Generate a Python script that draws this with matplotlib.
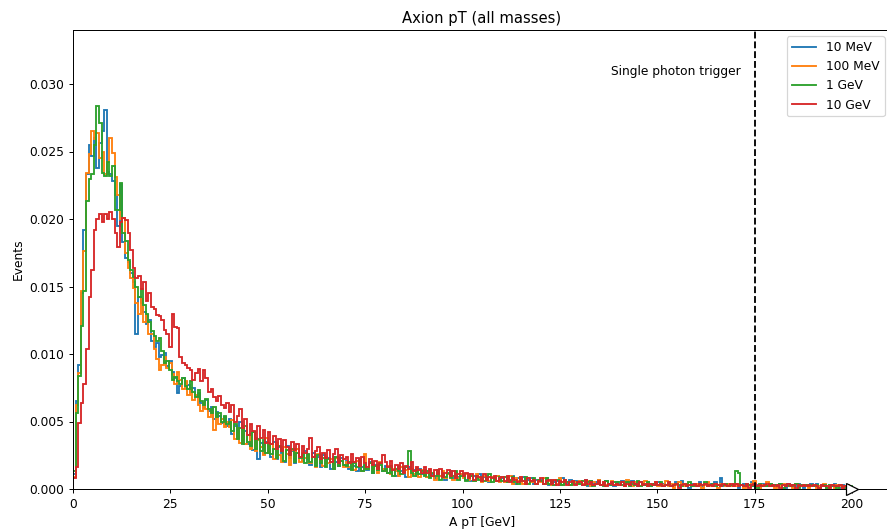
import numpy as np
import matplotlib
matplotlib.use("Agg")
import matplotlib.pyplot as plt

# histogram contents, units of 1e-5 (300 bins, 0-200 GeV)
scale = 1e-5
pt_min, pt_max, n_bins = 0, 200, 300

pt_10mev = [
    110, 650, 920, 1450, 1920, 2330, 2550, 2470, 2600, 2380, 2560, 2650, 2810, 2350, 2330,
    2280, 2180, 1950, 2260, 1830, 1710, 1680, 1600, 1530, 1150, 1420, 1380, 1310, 1220, 1250,
    1100, 1050, 1080, 980, 990, 1010, 910, 950, 870, 820, 710, 760, 820, 790, 770,
    720, 750, 690, 710, 640, 600, 660, 580, 610, 520, 570, 540, 490, 530, 470,
    520, 410, 470, 380, 500, 360, 430, 330, 410, 290, 380, 220, 340, 260, 350,
    300, 240, 350, 220, 310, 270, 200, 320, 230, 280, 190, 300, 240, 210, 280,
    220, 180, 270, 200, 240, 160, 250, 190, 230, 150, 240, 200, 170, 230, 180,
    210, 150, 200, 170, 130, 220, 160, 190, 140, 200, 120, 180, 150, 190, 130,
    170, 120, 160, 140, 100, 170, 130, 150, 90, 160, 120, 140, 100, 150, 110,
    140, 90, 130, 110, 80, 140, 100, 120, 70, 110, 130, 80, 120, 90, 110,
    100, 70, 110, 60, 100, 80, 110, 60, 90, 100, 50, 90, 70, 100, 60,
    80, 50, 90, 60, 100, 40, 80, 60, 90, 50, 70, 80, 40, 70, 60,
    70, 40, 80, 30, 70, 50, 60, 30, 80, 50, 40, 70, 40, 60, 50,
    60, 30, 70, 20, 60, 40, 50, 70, 30, 40, 60, 30, 50, 20, 50,
    40, 60, 20, 50, 30, 60, 40, 20, 50, 40, 30, 50, 20, 40, 30,
    50, 20, 40, 30, 50, 20, 30, 50, 20, 60, 30, 40, 10, 40, 30,
    30, 50, 20, 40, 30, 40, 20, 50, 30, 80, 20, 30, 40, 20, 30,
    40, 10, 30, 40, 20, 30, 50, 20, 30, 10, 40, 30, 20, 40, 20,
    30, 20, 40, 30, 10, 40, 20, 30, 20, 40, 30, 10, 30, 20, 40,
    20, 40, 10, 30, 20, 10, 30, 20, 40, 20, 10, 30, 20, 30, 10,
]

pt_100mev = [
    90, 620, 860, 1470, 1760, 2340, 2480, 2650, 2590, 2640, 2450, 2500, 2330, 2420, 2600,
    2490, 2310, 2180, 2000, 2010, 1750, 1640, 1560, 1490, 1380, 1300, 1410, 1240, 1290, 1150,
    1150, 1040, 960, 880, 920, 980, 900, 930, 850, 780, 870, 810, 740, 800, 700,
    740, 660, 700, 620, 580, 640, 590, 530, 570, 440, 540, 480, 520, 460, 500,
    460, 510, 370, 450, 340, 460, 330, 400, 300, 420, 280, 360, 310, 250, 380,
    270, 330, 220, 340, 250, 200, 310, 260, 180, 290, 240, 300, 200, 270, 230,
    250, 190, 240, 160, 260, 210, 170, 240, 190, 220, 150, 230, 180, 210, 160,
    200, 160, 180, 140, 210, 170, 130, 260, 150, 190, 140, 170, 120, 200, 150,
    130, 170, 110, 150, 130, 100, 160, 120, 140, 90, 150, 110, 130, 90, 140,
    110, 90, 140, 100, 70, 120, 100, 130, 80, 110, 90, 70, 120, 80, 110,
    80, 110, 70, 100, 60, 110, 80, 50, 100, 70, 60, 90, 60, 100, 50,
    90, 50, 70, 100, 40, 80, 60, 90, 40, 60, 80, 50, 70, 40, 70,
    50, 80, 40, 60, 30, 70, 40, 80, 30, 60, 50, 30, 60, 50, 40,
    60, 40, 30, 60, 20, 50, 40, 70, 30, 50, 30, 40, 60, 30, 40,
    30, 50, 20, 70, 40, 20, 50, 30, 20, 40, 60, 20, 40, 30, 50,
    20, 40, 30, 60, 20, 40, 10, 30, 50, 30, 20, 40, 30, 20, 40,
    40, 20, 10, 30, 50, 20, 30, 40, 10, 40, 30, 20, 40, 20, 30,
    20, 40, 30, 10, 30, 20, 40, 60, 20, 10, 30, 20, 50, 20, 30,
    10, 30, 20, 40, 30, 20, 30, 10, 40, 20, 30, 20, 30, 10, 20,
    30, 10, 20, 20, 40, 10, 20, 30, 10, 30, 20, 10, 20, 30, 10,
]

pt_1gev = [
    130, 560, 840, 1210, 1470, 2130, 2300, 2330, 2550, 2840, 2710, 2340, 2320, 2420, 2320,
    2390, 2070, 2070, 2270, 1900, 1840, 1700, 1620, 1570, 1500, 1420, 1480, 1360, 1300, 1240,
    1170, 1130, 1100, 1120, 1020, 930, 950, 880, 810, 830, 800, 780, 820, 760, 740,
    800, 720, 680, 730, 650, 620, 670, 590, 560, 610, 530, 560, 500, 540, 480,
    500, 430, 480, 370, 450, 330, 470, 350, 320, 420, 300, 370, 280, 360, 270,
    340, 260, 300, 230, 320, 280, 210, 290, 250, 300, 200, 270, 230, 260, 190,
    260, 200, 240, 170, 250, 190, 230, 160, 220, 200, 150, 240, 170, 210, 180,
    170, 200, 140, 190, 160, 210, 130, 180, 150, 190, 120, 170, 140, 180, 130,
    150, 120, 170, 100, 150, 130, 110, 160, 160, 280, 120, 100, 150, 110, 130,
    100, 130, 80, 120, 100, 140, 70, 110, 90, 120, 80, 100, 130, 70, 100,
    110, 60, 90, 100, 60, 100, 70, 90, 60, 80, 110, 50, 80, 60, 90,
    60, 90, 50, 70, 90, 50, 40, 80, 60, 90, 40, 60, 80, 40, 70,
    60, 40, 80, 40, 60, 30, 70, 50, 30, 70, 50, 30, 60, 40, 50,
    40, 60, 30, 50, 60, 20, 40, 50, 30, 20, 60, 40, 30, 50, 40,
    50, 30, 40, 50, 20, 40, 30, 60, 20, 40, 30, 50, 20, 40, 30,
    30, 50, 20, 30, 40, 20, 30, 40, 30, 20, 40, 20, 50, 20, 30,
    20, 40, 30, 50, 20, 30, 40, 20, 30, 20, 30, 40, 20, 30, 40,
    130, 120, 30, 20, 40, 30, 20, 30, 10, 40, 20, 30, 20, 40, 20,
    30, 20, 40, 10, 30, 20, 30, 20, 40, 10, 30, 20, 30, 20, 30,
    20, 30, 10, 20, 30, 10, 30, 20, 20, 10, 30, 20, 10, 20, 20,
]

pt_10gev = [
    80, 160, 490, 640, 780, 1040, 1420, 1620, 1920, 2000, 2040, 1980, 2040, 2000, 2050,
    2000, 1900, 1790, 1980, 2010, 1990, 1900, 1770, 1640, 1560, 1580, 1480, 1530, 1390, 1450,
    1350, 1330, 1290, 1280, 1250, 1180, 1150, 1050, 1300, 1200, 1190, 980, 930, 920, 900,
    880, 810, 860, 890, 800, 880, 820, 720, 740, 680, 650, 690, 620, 600, 640,
    570, 620, 500, 540, 590, 450, 520, 400, 480, 430, 370, 470, 380, 440, 340,
    420, 330, 390, 300, 370, 280, 360, 310, 250, 350, 290, 330, 240, 320, 270,
    300, 380, 240, 280, 310, 220, 270, 230, 290, 200, 260, 300, 190, 250, 220,
    240, 190, 260, 200, 230, 170, 240, 190, 160, 220, 180, 210, 150, 190, 250,
    200, 160, 210, 140, 180, 150, 190, 120, 170, 150, 200, 130, 160, 140, 120,
    160, 120, 150, 100, 140, 110, 150, 90, 120, 140, 100, 130, 80, 110, 130,
    100, 120, 80, 110, 70, 100, 90, 60, 110, 70, 90, 80, 100, 60, 80,
    90, 60, 100, 50, 80, 70, 50, 90, 60, 40, 80, 60, 70, 40, 60,
    80, 40, 60, 70, 40, 70, 30, 60, 50, 70, 30, 50, 60, 30, 50,
    50, 30, 70, 40, 50, 30, 40, 60, 30, 50, 20, 40, 50, 30, 40,
    30, 50, 20, 40, 30, 50, 40, 20, 50, 30, 40, 20, 40, 30, 50,
    30, 40, 20, 30, 50, 20, 30, 40, 10, 30, 40, 20, 30, 30, 40,
    20, 40, 30, 40, 20, 30, 20, 40, 30, 20, 40, 30, 20, 40, 20,
    40, 20, 30, 20, 40, 10, 30, 40, 20, 30, 20, 30, 40, 20, 30,
    20, 30, 10, 30, 20, 40, 20, 30, 10, 30, 20, 30, 20, 30, 20,
    30, 20, 10, 30, 20, 20, 10, 30, 20, 20, 30, 10, 20, 20, 10,
]

labels = ["10 MeV", "100 MeV", "1 GeV", "10 GeV"]
series = [pt_10mev, pt_100mev, pt_1gev, pt_10gev]
trigger_pt = 175

edges = np.linspace(pt_min, pt_max, n_bins + 1)

# 10 in wide figure rendered down to 887 px
dpi = 88.7
fig = plt.figure(figsize=(887 / dpi, 529 / dpi), dpi=dpi)
ax = fig.add_axes([73 / 887, 40 / 529, 818 / 887, 459 / 529])

for vals, lab in zip(series, labels):
    ax.stairs(np.array(vals) * scale, edges, label=lab, linewidth=1.5)

ax.axvline(trigger_pt, color="k", linestyle="--", linewidth=1.5)
ax.text(171.5, 0.0309, "Single photon trigger", ha="right", va="center")

# arrow at the end of the range
ax.plot(pt_max, 0, marker=">", markersize=10, markerfacecolor="white",
        markeredgecolor="k", clip_on=False, zorder=5)

ax.set_xlim(0, 210)
ax.set_ylim(0, 0.034)
ax.set_xticks([0, 25, 50, 75, 100, 125, 150, 175, 200])
ax.set_xlabel("A pT [GeV]")
ax.set_ylabel("Events")
ax.set_title("Axion pT (all masses)")
ax.legend(loc="upper right")

fig.savefig("out.png", dpi=dpi)
